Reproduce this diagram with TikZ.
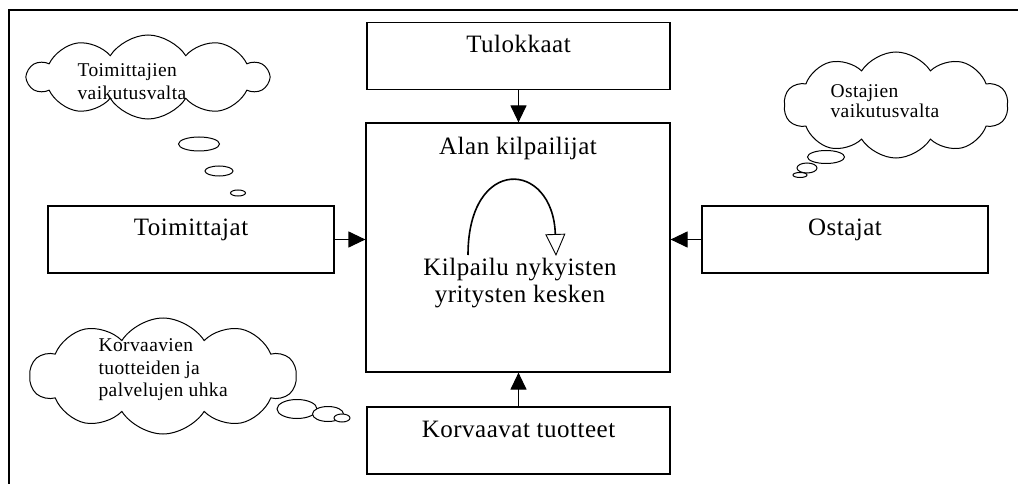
\documentclass[tikz,border=0pt]{standalone}
\usepackage{fontspec}
\setmainfont{Liberation Serif}[LetterSpace=2]
\usetikzlibrary{shapes.symbols,arrows.meta}
\tikzstyle{every picture}=[x=1pt, y=-1pt, line width=1.2pt,%
	>={Triangle[length=17pt,width=16pt]}]
\tikzstyle{laatikko}=[draw, rectangle, minimum width=303pt, inner sep=0pt,%
	text height=30pt, text depth=37pt, font=\fontsize{25}{30}\selectfont]
\tikzstyle{pilvi}=[draw, cloud, cloud puffs=10, cloud puff arc=115,%
	cloud ignores aspect, inner sep=0pt, line width=1pt]
\tikzstyle{pilviteksti}=[anchor=west, align=left, inner sep=0pt]
\tikzstyle{kupla}=[draw, fill=white, line width=1pt]

\begin{document}
\begin{tikzpicture}
\useasboundingbox (0,0) rectangle (1018,484);
\draw[line width=1.6pt] (9,484) -- (9,10) -- (1018,10);
\node[laatikko] (tulo) at (518.5,56) {Tulokkaat};
\node[laatikko, minimum width=304pt, text height=32pt, text depth=217pt] (kilp) at (518,247.5) {Alan kilpailijat};
\node[laatikko] (korv) at (518.5,440.5) {Korvaavat tuotteet};
\node[laatikko, minimum width=286pt] (toim) at (191,239.5) {Toimittajat};
\node[laatikko, minimum width=286pt] (osta) at (845,239.5) {Ostajat};
\draw[->] (tulo.south) -- (tulo.south |- kilp.north);
\draw[->] (korv.north) -- (korv.north |- kilp.south);
\draw[->] (toim.east) -- (toim.east -| kilp.west);
\draw[->] (osta.west) -- (osta.west -| kilp.east);
\coordinate (kierA) at (468,255);
\coordinate (kierB) at (556,256);
\draw[-{Triangle[open,length=22pt,width=20pt,line width=0.9pt]}, line width=1.6pt] (kierA) .. controls (468,155) and (553,160) .. (kierB);
\node[font=\fontsize{25}{27}\selectfont, align=center, inner sep=0pt] (kilpteksti) at (520,283) {Kilpailu nykyisten\\yritysten kesken};
\node[pilvi, minimum width=240pt, minimum height=84pt] (toimpilvi) at (148,77) {};
\node[pilviteksti, font=\fontsize{19.5}{23}\selectfont] (toimteksti) at (77,82) {Toimittajien\\vaikutusvalta};
\draw[kupla] (199,144) ellipse [x radius=20.5pt, y radius=7pt];
\draw[kupla] (219,171) ellipse [x radius=14pt, y radius=5pt];
\draw[kupla] (238,193) ellipse [x radius=7.5pt, y radius=3pt];
\node[pilvi, minimum width=224pt, minimum height=106pt] (ostapilvi) at (896,105) {};
\node[pilviteksti, font=\fontsize{19.5}{20}\selectfont] (ostateksti) at (830,101) {Ostajien\\vaikutusvalta};
\draw[kupla] (826,157) ellipse [x radius=18.5pt, y radius=6.5pt];
\draw[kupla] (807,168) ellipse [x radius=10pt, y radius=5pt];
\draw[kupla] (800,175) ellipse [x radius=7pt, y radius=2.5pt];
\node[pilvi, minimum width=266pt, minimum height=116pt] (korvpilvi) at (163,376) {};
\node[pilviteksti, font=\fontsize{19.5}{22.5}\selectfont] (korvteksti) at (98,370) {Korvaavien\\tuotteiden ja\\palvelujen uhka};
\draw[kupla] (297,409) ellipse [x radius=20pt, y radius=9.5pt];
\draw[kupla] (328,414) ellipse [x radius=15.5pt, y radius=7.5pt];
\draw[kupla] (342,418) ellipse [x radius=8pt, y radius=4pt];
\end{tikzpicture}
\end{document}
